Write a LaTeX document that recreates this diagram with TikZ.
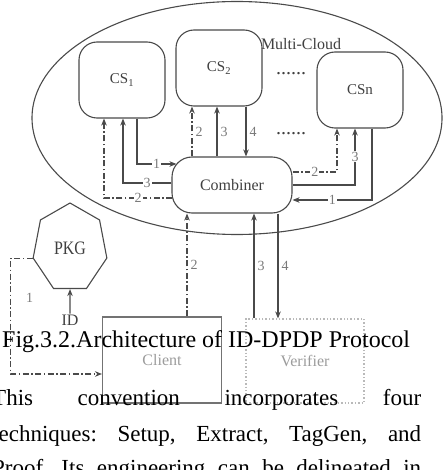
\documentclass[tikz,border=0pt]{standalone}
\usepackage{fontspec}
\setmainfont{Liberation Serif}
\usetikzlibrary{positioning, shapes.geometric, arrows.meta}

\definecolor{linegray}{HTML}{4A4A4A}
\definecolor{textgray}{HTML}{404040}
\definecolor{labelgray}{HTML}{7A7A7A}
\definecolor{fadegray}{HTML}{9C9C9C}

\begin{document}
\begin{tikzpicture}[
  x=1pt, y=-1pt,
  font=\fontsize{16}{18}\selectfont,
  cloudsrv/.style={
    draw=linegray, line width=1.1pt, rounded corners=18pt,
    minimum width=86pt, minimum height=76pt, inner sep=0pt,
    text=textgray, font=\fontsize{15}{17}\selectfont
  },
  combiner/.style={
    draw=linegray, line width=1.1pt, rounded corners=20pt,
    minimum width=120pt, minimum height=56pt, text=textgray
  },
  keygen/.style={
    draw=linegray, line width=1.1pt, regular polygon, regular polygon sides=7,
    minimum size=90pt, inner sep=0pt, xscale=0.84, text=textgray,
    font=\fontsize{19}{21}\selectfont
  },
  party/.style={
    draw=gray!90!black, line width=1.1pt, minimum width=119pt,
    minimum height=86pt, text=fadegray
  },
  verifier/.style={
    draw=gray!55, dash pattern=on 1.4pt off 2pt, minimum width=118pt,
    minimum height=84pt
  },
  gapdots/.style={font=\fontsize{20}{22}\selectfont, text=textgray, inner sep=0pt},
  arrow/.style={-{Stealth[length=7pt, width=5.5pt]}, line width=1.1pt, draw=linegray},
  dashdotline/.style={dash pattern=on 6pt off 2.5pt on 1.5pt off 2.5pt},
  numlabel/.style={font=\fontsize{14}{16}\selectfont, text=labelgray, fill=white, inner sep=1pt},
  sidelabel/.style={font=\fontsize{14}{16}\selectfont, text=labelgray, inner sep=1pt},
  bodyline/.style={anchor=base west, inner sep=0pt, font=\fontsize{23}{28}\selectfont},
]

\useasboundingbox[fill=white] (0,0) rectangle (444,470);

\node[draw=linegray, line width=1.1pt, ellipse, minimum width=410pt,
  minimum height=233pt, inner sep=0pt] (cloud) at (237,118) {};
\node[text=textgray] (mclabel) at (301,44) {Multi-Cloud};

\node[cloudsrv] (cs1) at (122,80) {CS\textsubscript{1}};
\node[cloudsrv] (cs2) at (219,68) {CS\textsubscript{2}};
\node[cloudsrv] (csn) at (360,90) {CSn};
\node[gapdots] (dotsa) at (291,74) {......};
\node[gapdots] (dotsb) at (291,134) {......};

\node[combiner] (comb) at (232,185) {Combiner};

\node[keygen] (pkg) at (70,248) {PKG};
\node[text=textgray, inner sep=1pt] (id) at (70,320) {ID};

\node[party] (client) at (162,360) {Client};
\node[party, verifier] (ver) at (305,361) {Verifier};

\draw[arrow] ([xshift=15pt]cs1.south) |- node[numlabel, pos=0.75] {1} ([xshift=5pt, yshift=21pt]comb.west);
\draw[arrow] ([yshift=2pt]comb.west) -| node[numlabel, pos=0.25] {3} ([xshift=1pt]cs1.south);
\draw[arrow, dashdotline] ([xshift=1pt, yshift=-13pt]comb.west) -| node[numlabel, pos=0.25] {2} ([xshift=-18pt]cs1.south);

\draw[arrow, dashdotline] ([xshift=-40pt]comb.north) -- node[sidelabel, right=2pt] {2} ([xshift=-27pt]cs2.south);
\draw[arrow] ([xshift=-15pt]comb.north) -- node[sidelabel, right=2pt] {3} ([xshift=-2pt]cs2.south);
\draw[arrow] ([xshift=27pt]cs2.south) -- node[sidelabel, right=2pt] {4} ([xshift=14pt]comb.north);

\draw[arrow, dashdotline] ([yshift=13pt]comb.east) -| node[numlabel, pos=0.25] {2} ([xshift=-23pt]csn.south);
\draw[arrow] (comb.east) -| node[numlabel, pos=0.75] {3} ([xshift=-5pt]csn.south);
\draw[arrow] ([xshift=12pt]csn.south) |- node[numlabel, pos=0.75] {1} ([yshift=-15pt]comb.east);

\draw[arrow, dashdotline] ([xshift=25pt]client.north) -- node[sidelabel, right=2pt] {2} ([xshift=-45pt]comb.south);
\draw[arrow] ([xshift=-51pt]ver.north) -- node[sidelabel, right=2pt] {3} ([xshift=22pt]comb.south);
\draw[arrow] ([xshift=46pt]comb.south) -- node[sidelabel, right=2pt] {4} ([xshift=-27pt]ver.north);

\draw[arrow] (id) -- (pkg.south);
\draw[arrow, dashdotline] (pkg.corner 3) -- ++(-22pt,0) |- node[sidelabel, pos=0.17, right=14pt] {1} ([yshift=-14pt]client.west);

\node[anchor=base west, inner sep=0pt, font=\fontsize{24}{28}\selectfont] (caption) at (2,347) {Fig.3.2.Architecture of ID-DPDP Protocol};

\node[bodyline] (line1) at (-8,405) {\hbox to 429pt{This\hfill convention\hfill incorporates\hfill four}};
\node[bodyline] (line2) at (-8,441) {\hbox to 429pt{techniques:\hfill Setup,\hfill Extract,\hfill TagGen,\hfill and}};
\node[bodyline] (line3) at (-8,475) {\hbox to 429pt{Proof.\hfill Its\hfill engineering\hfill can\hfill be\hfill delineated\hfill in}};

\end{tikzpicture}
\end{document}
